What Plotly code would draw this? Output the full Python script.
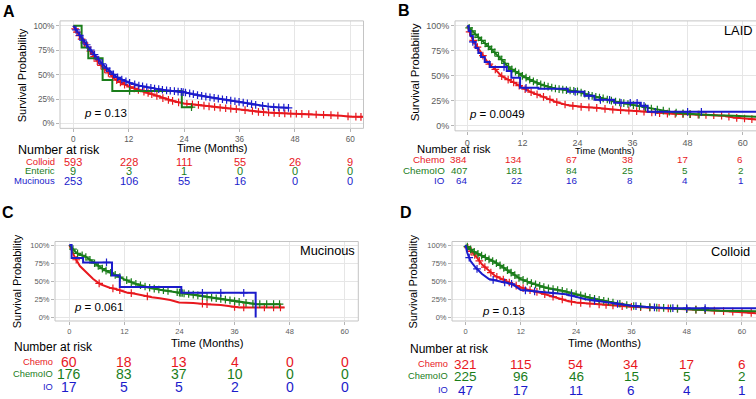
import numpy as np
import plotly.graph_objects as go

W, H = 756, 399
RED = "#E8181E"
GREEN = "#1A7D1A"
BLUE = "#1B1BCB"
FONT = "Liberation Sans, Arial, Helvetica, sans-serif"

TIME_TICKS = [0, 12, 24, 36, 48, 60]
SURV_TICKS = [0, 0.25, 0.5, 0.75, 1.0]
SURV_LABELS = ["0%", "25%", "50%", "75%", "100%"]

# ---------------- Panel A : Colloid / Enteric / Mucinous ----------------
A_colloid_t = [0, 1, 2, 3, 4, 5, 6, 7, 8, 9, 10, 11, 12, 14, 16, 18, 20, 22, 24, 26, 28, 30, 32, 34, 36,
               38, 40, 42, 44, 46, 48, 50, 52, 54, 56, 58, 60, 62.8]
A_colloid_s = [1.0, 0.92, 0.85, 0.79, 0.72, 0.65, 0.595, 0.545, 0.50, 0.455, 0.425, 0.40, 0.38, 0.345, 0.315,
               0.285, 0.25, 0.225, 0.205, 0.195, 0.185, 0.172, 0.16, 0.152, 0.144, 0.133, 0.12, 0.113, 0.108,
               0.104, 0.10, 0.097, 0.093, 0.09, 0.085, 0.08, 0.07, 0.068]
A_colloid_cens = [0.4, 0.8, 1.3, 1.8, 2.4, 3.1, 3.7, 4.5, 5.2, 6.0, 6.8, 7.6, 8.5, 9.4, 10.2, 11.1, 12.3, 13.2,
                  14.1, 15.3, 16.2, 17.0, 18.1, 19.4, 20.6, 21.5, 22.8, 24.6, 25.8, 27.1, 28.3, 29.4, 30.6,
                  31.8, 33.0, 34.1, 35.3, 37.2, 38.8, 40.1, 41.2, 42.3, 43.5, 44.6, 45.8, 47.1, 48.3, 49.5,
                  51.0, 52.6, 54.2, 55.8, 57.3, 59.5, 61.2, 62.3]
A_enteric_t = [0, 1.8, 3.25, 6.35, 8.45, 23.5, 25.6]
A_enteric_s = [1.0, 0.778, 0.667, 0.444, 0.333, 0.167, 0.167]
A_enteric_cens = [12.2, 25.6]
A_mucinous_t = [0, 1, 2, 3, 4, 5, 6, 7, 8, 9, 10, 11, 12, 14, 16, 18, 20, 22, 24, 26, 28, 30, 32, 34, 36,
                38, 40, 42, 44, 46.6]
A_mucinous_s = [1.0, 0.93, 0.86, 0.80, 0.74, 0.68, 0.625, 0.575, 0.53, 0.49, 0.46, 0.44, 0.42, 0.39, 0.37,
                0.355, 0.34, 0.33, 0.32, 0.30, 0.28, 0.265, 0.25, 0.235, 0.22, 0.205, 0.185, 0.175, 0.165, 0.16]
A_mucinous_cens = [0.6, 1.4, 2.1, 2.9, 3.8, 4.6, 5.5, 6.3, 7.2, 7.9, 8.7, 9.6, 10.5, 11.4, 12.2, 13.3, 14.2,
                   15.0, 15.9, 16.8, 17.6, 18.5, 19.3, 20.2, 21.0, 21.9, 22.7, 23.4, 23.8, 24.3, 25.2, 26.0,
                   26.9, 27.8, 28.7, 29.6, 30.5, 31.4, 32.3, 33.2, 34.1, 35.0, 35.9, 36.8, 37.7, 38.6, 39.5,
                   41.0, 42.2, 43.4, 44.5, 45.6, 46.6]
A_groups = ["Colloid", "Enteric", "Mucinous"]
A_risk = [[593, 228, 111, 55, 26, 9], [9, 3, 1, 0, 0, 0], [253, 106, 55, 16, 0, 0]]

# ---------------- Panel B : LAID ----------------
B_chemo_t = [0, 1, 1.6, 3, 4.5, 6, 7.4, 9, 10.3, 12.5, 14, 16, 18, 19.7, 22, 24, 26, 28, 30.6, 33, 36, 39,
             42, 45, 48, 51, 54, 56, 58, 60, 63.5]
B_chemo_s = [1.0, 0.88, 0.83, 0.73, 0.63, 0.57, 0.50, 0.46, 0.43, 0.37, 0.335, 0.30, 0.265, 0.233, 0.205,
             0.193, 0.187, 0.18, 0.167, 0.158, 0.15, 0.14, 0.127, 0.12, 0.117, 0.112, 0.107, 0.10, 0.083,
             0.075, 0.06]
B_chemo_cens = [0.5, 1.3, 2.2, 3.4, 4.8, 6.1, 7.5, 8.9, 10.1, 11.3, 12.6, 13.9, 15.2, 16.6, 18.0, 19.5, 21.3,
                23.0, 24.8, 26.5, 28.2, 30.0, 31.7, 33.4, 35.2, 36.9, 38.5, 40.2, 41.9, 43.6, 45.3, 47.0,
                48.6, 50.3, 52.0, 53.7, 55.4, 57.0, 58.7, 60.4, 62.0]
B_chemoio_t = [0, 1.6, 3, 4.5, 6, 7.4, 8.5, 9.6, 11, 12, 13.3, 14.6, 16, 17.5, 19, 21.2, 24, 26, 28, 30,
               32, 36, 39.3, 42.9, 45, 48, 50, 54, 58, 63.5]
B_chemoio_s = [1.0, 0.92, 0.86, 0.80, 0.735, 0.667, 0.61, 0.567, 0.53, 0.50, 0.47, 0.44, 0.415, 0.393,
               0.375, 0.36, 0.345, 0.315, 0.29, 0.27, 0.245, 0.21, 0.18, 0.15, 0.135, 0.12, 0.113, 0.105,
               0.10, 0.09]
B_chemoio_cens = [0.4, 1.0, 1.7, 2.4, 3.1, 3.9, 4.6, 5.3, 6.0, 6.8, 7.5, 8.2, 9.0, 9.7, 10.5, 11.2, 12.0,
                  12.8, 13.6, 14.4, 15.2, 16.0, 16.8, 17.6, 18.4, 19.2, 20.0, 20.8, 21.6, 22.4, 23.2, 24.0,
                  24.8, 25.6, 26.4, 27.2, 28.0, 28.8, 29.6, 30.5, 31.4, 32.3, 33.2, 34.1, 35.0, 36.2, 37.5,
                  38.8, 40.1, 41.4, 42.7, 44.0, 45.5, 47.0, 48.5, 50.5]
B_io_t = [0, 0.3, 0.7, 1.2, 1.8, 2.4, 3.0, 3.8, 4.9, 8.6, 9.6, 11.5, 15.5, 21.9, 25.5, 27.7, 32.0, 37.8,
          39.3, 63.5]
B_io_s = [1.0, 0.95, 0.90, 0.84, 0.78, 0.73, 0.69, 0.64, 0.59, 0.55, 0.48, 0.38, 0.37, 0.34, 0.30, 0.26,
          0.23, 0.20, 0.14, 0.14]
B_io_cens = [1.2, 8.0, 12.8, 23.5, 26.5, 29.0, 31.0, 33.5, 35.5, 37.0, 38.5, 41.0, 48.0, 51.0]
B_groups = ["Chemo", "ChemoIO", "IO"]
B_risk = [[384, 134, 67, 38, 17, 6], [407, 181, 84, 25, 5, 2], [64, 22, 16, 8, 4, 1]]

# ---------------- Panel C : Mucinous ----------------
C_chemo_t = [0, 0.5, 1.2, 2.3, 3.8, 5.2, 6.7, 8.8, 10.3, 12.5, 14, 16, 18, 19.7, 22, 23.9, 27, 29.9, 33,
             37.1, 46.9]
C_chemo_s = [1.0, 0.92, 0.83, 0.71, 0.62, 0.53, 0.46, 0.41, 0.39, 0.344, 0.33, 0.30, 0.28, 0.266, 0.24,
             0.206, 0.20, 0.183, 0.17, 0.138, 0.138]
C_chemo_cens = [1.5, 6.5, 9.5, 11.0, 13.5, 17.0, 29.0, 30.0, 36.0, 38.0, 42.5, 44.5, 46.0]
C_chemoio_t = [0, 1.6, 3.8, 5.9, 7.4, 9.6, 11.9, 14.6, 17.5, 20, 23.9, 28.4, 33.5, 37.8, 40.7, 45.8]
C_chemoio_s = [1.0, 0.89, 0.83, 0.73, 0.665, 0.60, 0.53, 0.46, 0.41, 0.38, 0.344, 0.30, 0.25, 0.206,
               0.183, 0.183]
C_chemoio_cens = [0.8, 1.8, 2.8, 3.6, 4.5, 5.5, 6.3, 7.2, 8.0, 9.0, 10.0, 11.0, 12.5, 13.5, 14.5, 15.5,
                  16.5, 17.5, 18.5, 19.5, 20.5, 21.5, 23.5, 24.0, 24.3, 24.6, 25.0, 26.0, 27.0, 28.0,
                  29.0, 30.0, 31.0, 32.0, 33.0, 34.0, 35.0, 36.0, 37.0, 38.5, 40.0, 41.5, 43.0, 44.5, 45.8]
C_io_t = [0, 0.5, 3.0, 9.3, 11.0, 24.4, 40.6]
C_io_s = [1.0, 0.82, 0.76, 0.58, 0.42, 0.34, 0.0]
C_io_cens = [8.1, 29.0, 33.0, 38.0]
C_groups = ["Chemo", "ChemoIO", "IO"]
C_risk = [[60, 18, 13, 4, 0, 0], [176, 83, 37, 10, 0, 0], [17, 5, 5, 2, 0, 0]]

# ---------------- Panel D : Colloid ----------------
D_chemo_t = [0, 1.1, 2.2, 3.6, 5.1, 6.5, 8, 10.2, 13.1, 16, 19.6, 22, 24, 28.3, 32, 36, 42.8, 47.9, 55.2,
             60, 63.5]
D_chemo_s = [1.0, 0.92, 0.85, 0.73, 0.64, 0.57, 0.53, 0.46, 0.39, 0.344, 0.275, 0.23, 0.206, 0.183, 0.165,
             0.147, 0.128, 0.115, 0.09, 0.07, 0.055]
D_chemo_cens = [0.5, 1.2, 2.0, 3.0, 4.2, 5.5, 6.8, 8.2, 9.5, 11.0, 12.5, 14.0, 15.5, 17.2, 19.0, 21.0, 23.0,
                25.0, 27.0, 29.0, 30.5, 32.0, 34.0, 36.0, 38.0, 40.0, 42.0, 44.0, 46.0, 48.0, 50.0, 52.0,
                54.0, 56.0, 58.0, 60.0, 62.0]
D_chemoio_t = [0, 1.5, 3.6, 6.5, 9.4, 12, 14.5, 17.4, 21, 24, 28.3, 32, 36, 40.7, 47.9, 55.2, 63.5]
D_chemoio_s = [1.0, 0.92, 0.85, 0.76, 0.64, 0.53, 0.47, 0.41, 0.367, 0.32, 0.25, 0.206, 0.16, 0.138, 0.115,
               0.092, 0.083]
D_chemoio_cens = [0.4, 1.1, 1.9, 2.7, 3.5, 4.3, 5.1, 5.9, 6.7, 7.5, 8.3, 9.1, 9.9, 10.7, 11.6, 12.5, 13.4,
                  14.3, 15.2, 16.1, 17.0, 18.0, 19.0, 20.0, 21.0, 22.0, 23.0, 24.0, 25.0, 26.0, 27.0, 28.0,
                  29.0, 30.0, 31.0, 32.0, 33.5, 35.0, 36.5, 38.0, 40.0, 41.5, 43.0, 44.5, 46.0, 48.0, 50.0,
                  52.0]
D_io_t = [0, 0.4, 1.1, 2.2, 3.6, 5.1, 7.3, 10.2, 12, 17.4, 21.8, 26.1, 30.5, 36, 40.7, 45, 63.5]
D_io_s = [1.0, 0.89, 0.78, 0.69, 0.60, 0.53, 0.50, 0.46, 0.38, 0.344, 0.32, 0.25, 0.206, 0.16, 0.138,
          0.128, 0.128]
D_io_cens = [0.8, 2.5, 6.0, 8.5, 10.0, 13.0, 15.0, 19.0, 23.0, 28.0, 33.0, 37.0, 41.0, 45.0, 48.0, 52.0]
D_groups = ["Chemo", "ChemoIO", "IO"]
D_risk = [[321, 115, 54, 34, 17, 6], [225, 96, 46, 15, 5, 2], [47, 17, 11, 6, 4, 1]]

COLORS = [RED, GREEN, BLUE]


def pxx(x):
    return x / W


def pyy(y):
    return 1 - y / H


fig = go.Figure()

panels = [
    dict(key="", letter="A", box=(60, 363.5, 20, 128), xr=[-2.88, 62.85], tfs=8.2,
         curves=[(A_colloid_t, A_colloid_s, A_colloid_cens, "linear"),
                 (A_enteric_t, A_enteric_s, A_enteric_cens, "hv"),
                 (A_mucinous_t, A_mucinous_s, A_mucinous_cens, "linear")],
         groups=A_groups, risk=A_risk, letter_pos=(0.5, 11),
         ytitle=(21.7, 75, 11), xtitle=(212.5, 147.7, 11), pval=("<i>p</i> = 0.13", 82, 113),
         facet=None,
         header=(16, 150, 12.5), lab_right=57, rows=[161.7, 170.7, 180.5], lab_fs=9.5, num_fs=11,
         num_anchor="center"),
    dict(key="2", letter="B", box=(455, 780, 20, 130.5), xr=[-2.68, 62.9], tfs=9,
         curves=[(B_chemo_t, B_chemo_s, B_chemo_cens, "linear"),
                 (B_chemoio_t, B_chemoio_s, B_chemoio_cens, "linear"),
                 (B_io_t, B_io_s, B_io_cens, "hv")],
         groups=B_groups, risk=B_risk, letter_pos=(396, 9.5),
         ytitle=(414.7, 72, 11.5), xtitle=(604.7, 150.7, 9.3), pval=("<i>p</i> = 0.0049", 467, 114),
         facet=("LAID", 754, 30),
         header=(415, 148.3, 11.3), lab_right=446.7, rows=[159.3, 170, 180.7], lab_fs=9.8, num_fs=9.8,
         num_anchor="right"),
    dict(key="3", letter="C", box=(55, 358.3, 241.7, 321.6), xr=[-3.12, 62.96], tfs=7.5,
         curves=[(C_chemo_t, C_chemo_s, C_chemo_cens, "linear"),
                 (C_chemoio_t, C_chemoio_s, C_chemoio_cens, "linear"),
                 (C_io_t, C_io_s, C_io_cens, "hv")],
         groups=C_groups, risk=C_risk, letter_pos=(0, 213),
         ytitle=(16.7, 282, 11), xtitle=(207, 343.3, 11.3), pval=("<i>p</i> = 0.061", 72, 308),
         facet=("Mucinous", 356.7, 250.7),
         header=(12, 347.5, 12), lab_right=55, rows=[362.7, 375, 388.3], lab_fs=9.3, num_fs=14,
         num_anchor="center"),
    dict(key="4", letter="D", box=(452, 780, 241.7, 321.6), xr=[-2.93, 63.04], tfs=7.5,
         curves=[(D_chemo_t, D_chemo_s, D_chemo_cens, "linear"),
                 (D_chemoio_t, D_chemoio_s, D_chemoio_cens, "linear"),
                 (D_io_t, D_io_s, D_io_cens, "linear")],
         groups=D_groups, risk=D_risk, letter_pos=(398, 212.5),
         ytitle=(413, 282, 11), xtitle=(604.7, 344, 11.4), pval=("<i>p</i> = 0.13", 480, 312),
         facet=("Colloid", 752, 251.3),
         header=(408, 350, 12), lab_right=449.7, rows=[365, 377.3, 391], lab_fs=9.3, num_fs=13.5,
         num_anchor="center"),
]

annotations = []
shapes = []
layout_axes = {}

for p in panels:
    k = p["key"]
    xa, ya = "x" + k, "y" + k
    left, right, top, bottom = p["box"]
    right_dom = min(right, W)
    axis_common = dict(showgrid=True, gridcolor="#E6E6E6", gridwidth=1, zeroline=False, showline=False,
                       ticks="outside", ticklen=3, tickcolor="#B5B5B5", tickwidth=1,
                       tickfont=dict(family=FONT, size=p["tfs"], color="#5C5C5C"), fixedrange=True)
    layout_axes["xaxis" + k] = dict(axis_common, domain=[pxx(left), pxx(right_dom)], anchor=ya,
                                    range=list(p["xr"]), tickvals=TIME_TICKS,
                                    ticktext=[str(v) for v in TIME_TICKS])
    layout_axes["yaxis" + k] = dict(axis_common, domain=[pyy(bottom), pyy(top)], anchor=xa,
                                    range=[-0.05, 1.05], tickvals=SURV_TICKS, ticktext=SURV_LABELS)
    shapes.append(dict(type="rect", xref="paper", yref="paper", x0=pxx(left), x1=pxx(right),
                       y0=pyy(bottom), y1=pyy(top), line=dict(color="#C4C4C4", width=1), layer="above"))

    for (t, s, cens, shape), col in zip(p["curves"], COLORS):
        t = np.asarray(t, float)
        s = np.asarray(s, float)
        fig.add_trace(go.Scatter(x=t, y=s, mode="lines", line=dict(color=col, width=2, shape=shape),
                                 xaxis=xa, yaxis=ya, hoverinfo="skip", showlegend=False))
        c = np.asarray(cens, float)
        if shape == "hv":
            idx = np.clip(np.searchsorted(t, c, side="right") - 1, 0, len(s) - 1)
            cy = s[idx]
        else:
            cy = np.interp(c, t, s)
        fig.add_trace(go.Scatter(x=c, y=cy, mode="markers",
                                 marker=dict(symbol="cross-thin", size=5.5, color=col,
                                             line=dict(color=col, width=1.2)),
                                 xaxis=xa, yaxis=ya, hoverinfo="skip", showlegend=False))

    lx, ly = p["letter_pos"]
    annotations.append(dict(text="<b>%s</b>" % p["letter"], x=pxx(lx), y=pyy(ly), xref="paper", yref="paper",
                            xanchor="left", yanchor="middle", showarrow=False,
                            font=dict(family=FONT, size=16, color="black")))
    tx, ty, tfs = p["ytitle"]
    annotations.append(dict(text="Survival Probability", x=pxx(tx), y=pyy(ty), xref="paper", yref="paper",
                            textangle=-90, xanchor="center", yanchor="middle", showarrow=False,
                            font=dict(family=FONT, size=tfs, color="black")))
    tx, ty, tfs = p["xtitle"]
    annotations.append(dict(text="Time (Months)", x=pxx(tx), y=pyy(ty), xref="paper", yref="paper",
                            xanchor="center", yanchor="middle", showarrow=False,
                            font=dict(family=FONT, size=tfs, color="black")))
    ptxt, px_, py_ = p["pval"]
    annotations.append(dict(text=ptxt, x=pxx(px_), y=pyy(py_), xref="paper", yref="paper",
                            xanchor="left", yanchor="middle", showarrow=False,
                            font=dict(family=FONT, size=11.5, color="black")))
    if p["facet"]:
        ft, fx, fy = p["facet"]
        annotations.append(dict(text=ft, x=pxx(fx), y=pyy(fy), xref="paper", yref="paper",
                                xanchor="right", yanchor="middle", showarrow=False,
                                font=dict(family=FONT, size=12.8, color="black")))
    hx, hy, hfs = p["header"]
    annotations.append(dict(text="Number at risk", x=pxx(hx), y=pyy(hy), xref="paper", yref="paper",
                            xanchor="left", yanchor="middle", showarrow=False,
                            font=dict(family=FONT, size=hfs, color="black")))
    for g, row, ry, col in zip(p["groups"], p["risk"], p["rows"], COLORS):
        annotations.append(dict(text=g, x=pxx(p["lab_right"]), y=pyy(ry), xref="paper", yref="paper",
                                xanchor="right", yanchor="middle", showarrow=False,
                                font=dict(family=FONT, size=p["lab_fs"], color=col)))
        for tv, n in zip(TIME_TICKS, row):
            annotations.append(dict(text=str(n), x=tv, y=pyy(ry), xref=xa, yref="paper",
                                    xanchor=p["num_anchor"], xshift=2 if p["num_anchor"] == "right" else 0,
                                    yanchor="middle", showarrow=False,
                                    font=dict(family=FONT, size=p["num_fs"], color=col)))

fig.update_layout(width=W, height=H, margin=dict(l=0, r=0, t=0, b=0), paper_bgcolor="white",
                  plot_bgcolor="white", showlegend=False, annotations=annotations, shapes=shapes,
                  font=dict(family=FONT), **layout_axes)

fig.write_html("out.html", config={"displayModeBar": False, "staticPlot": True},
               post_script="document.body.style.margin='0';document.body.style.overflow='hidden';")
